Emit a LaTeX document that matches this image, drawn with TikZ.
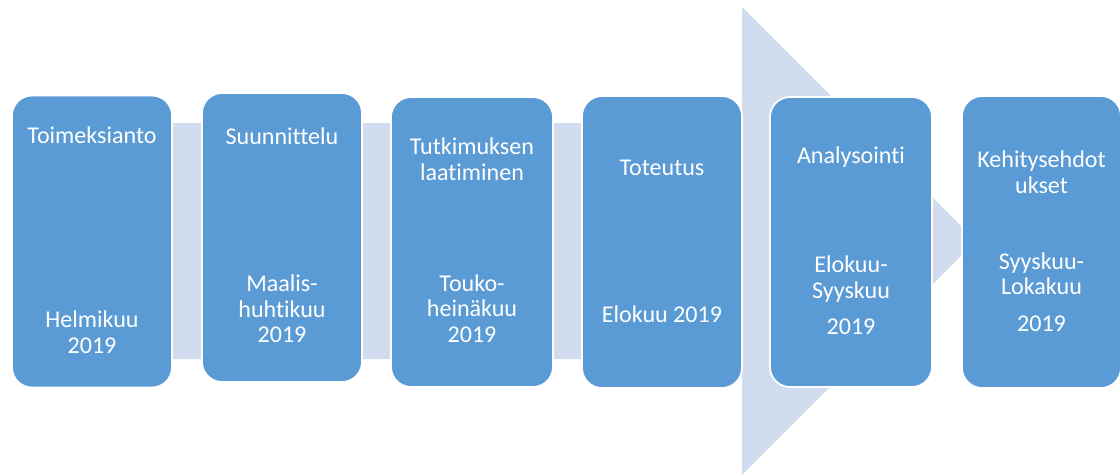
\documentclass[tikz,border=0pt]{standalone}
\usepackage{fontspec}
\setmainfont{Carlito}[Ligatures=NoCommon]
\usepackage{xcolor}
\usepackage{tikz}
\usetikzlibrary{shapes,arrows,positioning}

\definecolor{stepblue}{RGB}{91,155,213}
\definecolor{flowgray}{RGB}{209,221,238}

\begin{document}
\begin{tikzpicture}[
    x=0.02cm, y=-0.02cm,
    phase/.style={rectangle, rounded corners=0.4cm, draw=white, line width=1pt, fill=stepblue, minimum width=3.2cm, minimum height=5.84cm, inner sep=0pt},
    label/.style={text=white, align=center, font=\fontsize{13.7}{14.5}\selectfont},
    flow/.style={fill=flowgray}
]
    \useasboundingbox (0,0) rectangle (1120,474);

    % Background arrow
    \fill[flow] (92,123) -- (742,123) -- (742,7) -- (976,241) -- (742,475) -- (742,359) -- (92,359) -- cycle;

    % Phases
    \node[phase] (toimeksianto) at (92,241.5) {};
    \node[phase, minimum height=5.78cm] (suunnittelu) at (282,237.5) {};
    \node[phase, minimum width=3.24cm, minimum height=5.8cm] (laatiminen) at (472,242) {};
    \node[phase] (toteutus) at (662,242) {};
    \node[phase, minimum width=3.24cm, minimum height=5.8cm] (analysointi) at (851,242) {};
    \node[phase, minimum width=3.18cm] (kehitys) at (1041.5,242) {};

    % Titles
    \node[label] (toimeksianto-t) at (92,135.5) {Toimeksianto};
    \node[label] (suunnittelu-t) at (282,136.5) {Suunnittelu};
    \node[label] (laatiminen-t) at (472,159) {Tutkimuksen\\laatiminen};
    \node[label] (toteutus-t) at (662,167.5) {Toteutus};
    \node[label] (analysointi-t) at (851,157) {Analysointi};
    \node[label] (kehitys-t) at (1041.5,172) {Kehitysehdot\\ukset};

    % Dates
    \node[label] (toimeksianto-d) at (92,332) {Helmikuu\\2019};
    \node[label] (suunnittelu-d) at (282,309) {Maalis-\\huhtikuu\\2019};
    \node[label] (laatiminen-d) at (472,308.5) {Touko-\\heinäkuu\\2019};
    \node[label] (toteutus-d) at (662,314.5) {Elokuu 2019};
    \node[label] (analysointi-d) at (851,295.5) {Elokuu-\\Syyskuu\\[6.5pt]2019};
    \node[label] (kehitys-d) at (1041.5,292) {Syyskuu-\\Lokakuu\\[6.5pt]2019};
\end{tikzpicture}
\end{document}
